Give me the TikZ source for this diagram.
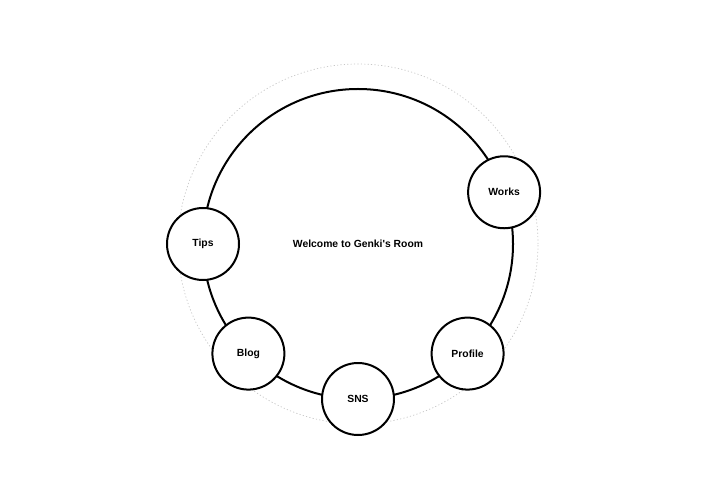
\documentclass[tikz,border=0pt]{standalone}
\usetikzlibrary{calc}
\usepackage{fontspec}
\setmainfont{Liberation Sans}
\begin{document}
\begin{tikzpicture}[x=1bp,y=-1bp,
  ring/.style={draw=black,line width=2bp},
  guide/.style={draw=black!22,line width=0.7bp,dash pattern=on 1.2bp off 2.2bp},
  item/.style={circle,draw=black,line width=2bp,fill=white,minimum size=72bp,inner sep=0pt,font=\bfseries\fontsize{10.4}{12}\selectfont},
  title/.style={font=\bfseries\fontsize{10.4}{12}\selectfont}]
\useasboundingbox (0,0) rectangle (720,487);
\coordinate (c) at (358,244);
\draw[guide] (c) circle[radius=180bp];
\draw[ring] (c) circle[radius=155bp];
\node[title] (welcome) at (358,244) {Welcome to Genki\textquotesingle s Room};
\node[item] (works) at ($(c)+(19.5:155bp)$) {Works};
\node[item] (tips) at ($(c)+(180:155bp)$) {Tips};
\node[item] (blog) at ($(c)+(225:155bp)$) {Blog};
\node[item] (sns) at ($(c)+(270:155bp)$) {SNS};
\node[item] (profile) at ($(c)+(315:155bp)$) {Profile};
\end{tikzpicture}
\end{document}
